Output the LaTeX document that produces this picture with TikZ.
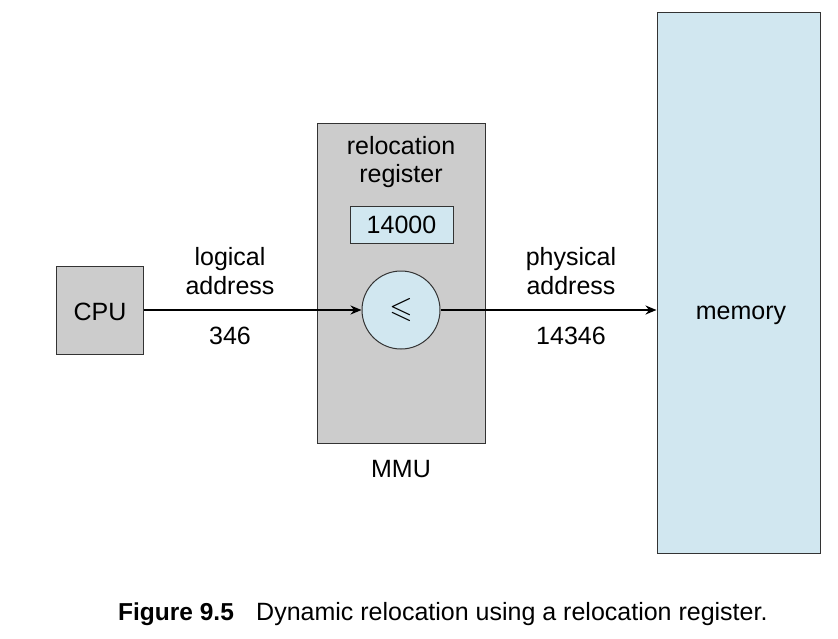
\documentclass[tikz,border=0pt]{standalone}
\usepackage{amssymb}
\usepackage{graphicx}
\usepackage{fontspec}
\setmainfont{Liberation Sans}
\usetikzlibrary{arrows.meta}
\definecolor{boxgray}{HTML}{CCCCCC}
\definecolor{lblue}{HTML}{D1E7F0}
\definecolor{edge}{HTML}{333333}
\begin{document}
\begin{tikzpicture}[x=1pt,y=-1pt,
  gbox/.style={draw=edge,line width=1pt,fill=boxgray},
  bbox/.style={draw=edge,line width=1pt,fill=lblue},
  lbl/.style={font=\fontsize{25}{28.5}\selectfont,align=center,inner sep=0pt},
  flow/.style={line width=2pt,-{Stealth[length=11pt,width=9pt]}}]
\useasboundingbox (0,0) rectangle (838,638);
\fill[white] (0,0) rectangle (838,638);
% boxes
\node[gbox,minimum width=87pt,minimum height=88pt,inner sep=0pt] (cpu) at (99.5,310) {};
\node[lbl,anchor=base] at (100,320) {CPU};
\node[gbox,minimum width=168pt,minimum height=320pt,inner sep=0pt] (mmu) at (401,283) {};
\node[bbox,minimum width=163pt,minimum height=541pt,inner sep=0pt] (mem) at (738.5,282.5) {};
\node[lbl,anchor=base] (memtxt) at (741,319) {memory};
\node[lbl] (reltxt) at (401,162) {relocation\\register};
\node[bbox,minimum width=103pt,minimum height=37pt,inner sep=0pt] (reg) at (401.5,224.5) {};
\node[lbl,anchor=base] (regtxt) at (401.5,233.5) {14000};
\node[bbox,circle,minimum size=78pt,inner sep=0pt] (add) at (401,310) {};
\node[lbl] at (add.center) {\scalebox{1.2}{$\leqslant$}};
\node[lbl,anchor=base] (mmutxt) at (401,477) {MMU};
% labels
\node[lbl] (logl) at (230,271) {logical\\address};
\node[lbl,anchor=base] (logv) at (230,344) {346};
\node[lbl] (phyl) at (571,271) {physical\\address};
\node[lbl,anchor=base] (phyv) at (571,344) {14346};
% connectors
\draw[flow] (cpu.east) -- (add.west);
\draw[flow] (add.east) -- (add.east -| mem.west);
% caption
\node[anchor=base west,inner sep=0pt,font=\fontsize{24.5}{28}\selectfont\bfseries] (capa) at (118,620) {Figure 9.5};
\node[anchor=base west,inner sep=0pt,font=\fontsize{25}{28}\selectfont] (capb) at (256,620) {Dynamic relocation using a relocation register.};
\end{tikzpicture}
\end{document}
